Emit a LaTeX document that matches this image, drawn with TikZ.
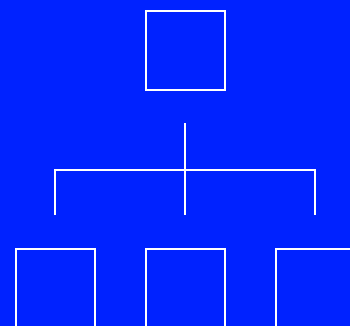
\documentclass[tikz,border=0pt]{standalone}
\definecolor{bg}{RGB}{0,34,255}
\tikzset{
  box/.style={draw=white, line width=2pt, minimum width=79pt, minimum height=79pt, inner sep=0pt, outer sep=0pt},
  wire/.style={draw=white, line width=2pt}
}
\begin{document}
\begin{tikzpicture}[x=1pt,y=-1pt]
\fill[bg] (0,0) rectangle (350,326);
\useasboundingbox (0,0) rectangle (350,326);
\begin{scope}
\clip (0,0) rectangle (350,326);
\node[box] (top) at (185,50.5) {};
\node[box] (b1) at (55,288.5) {};
\node[box] (b2) at (185,288.5) {};
\node[box] (b3) at (315,288.5) {};
\coordinate (t0) at (185,123);
\coordinate (j) at (185,170);
\coordinate (l) at (55,170);
\coordinate (r) at (315,170);
\coordinate (e1) at (55,215);
\coordinate (e2) at (185,215);
\coordinate (e3) at (315,215);
\draw[wire] (t0) -- (j);
\draw[wire] (e1) -- (l) -- (r) -- (e3);
\draw[wire] (j) -- (e2);
\end{scope}
\end{tikzpicture}
\end{document}
